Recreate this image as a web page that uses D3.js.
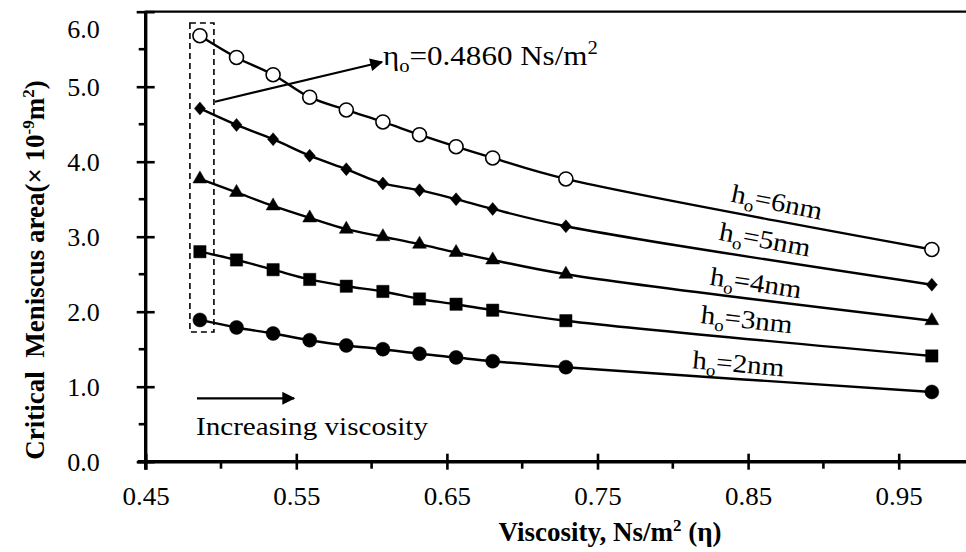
<!DOCTYPE html>
<html>
<head>
<meta charset="utf-8">
<script src="https://cdn.jsdelivr.net/npm/d3@7"></script>
<style>
  html, body { margin: 0; padding: 0; background: #fff; }
  svg { display: block; }
  text { font-family: "Liberation Serif", "Times New Roman", serif; fill: #000; }
</style>
</head>
<body>
<svg id="chart" width="966" height="552"></svg>
<script>
// ---- data ----
const viscosity = [0.486, 0.5103, 0.5346, 0.5589, 0.5832, 0.6075, 0.6318, 0.6561, 0.6804, 0.729, 0.972];
const areaH6 = [5.68, 5.39, 5.16, 4.86, 4.69, 4.53, 4.36, 4.20, 4.05, 3.77, 2.83];
const areaH5 = [4.71, 4.49, 4.30, 4.08, 3.90, 3.71, 3.62, 3.50, 3.37, 3.14, 2.36];
const areaH4 = [3.77, 3.59, 3.41, 3.25, 3.10, 3.00, 2.90, 2.79, 2.69, 2.50, 1.88];
const areaH3 = [2.80, 2.69, 2.56, 2.43, 2.34, 2.27, 2.17, 2.10, 2.02, 1.88, 1.41];
const areaH2 = [1.89, 1.79, 1.71, 1.62, 1.55, 1.50, 1.44, 1.39, 1.34, 1.26, 0.93];
const seriesNames = ["6nm", "5nm", "4nm", "3nm", "2nm"];
const xTicks = [0.45, 0.55, 0.65, 0.75, 0.85, 0.95];
const xMinorTicks = [0.50, 0.60, 0.70, 0.80, 0.90];
const yTicks = [0, 1, 2, 3, 4, 5, 6];
const yMinorTicks = [0.5, 1.5, 2.5, 3.5, 4.5, 5.5];
// label anchors (data units) and rotation for each series label
const labelX = [0.838, 0.830, 0.824, 0.818, 0.8125];
const labelY = [3.47, 2.96, 2.36, 1.85, 1.245];
const labelAngle = [11.5, 10.5, 8.5, 6.5, 5];
const eta0 = 0.486;

// ---- layout ----
const svg = d3.select("#chart");
const x = d3.scaleLinear().domain([0.45, 1.0]).range([145.7, 974]);
const y = d3.scaleLinear().domain([0, 6]).range([461.7, 11.7]);
const stretch = 1.12;   // horizontal widening of text seen in the reference

const series = [
  { name: seriesNames[0], values: areaH6, marker: "openCircle" },
  { name: seriesNames[1], values: areaH5, marker: "diamond" },
  { name: seriesNames[2], values: areaH4, marker: "triangle" },
  { name: seriesNames[3], values: areaH3, marker: "square" },
  { name: seriesNames[4], values: areaH2, marker: "circle" }
];

// defs: arrowhead
svg.append("defs").append("marker")
  .attr("id", "arrow").attr("viewBox", "0 0 10 10")
  .attr("refX", 9).attr("refY", 5)
  .attr("markerWidth", 17).attr("markerHeight", 13)
  .attr("markerUnits", "userSpaceOnUse")
  .attr("orient", "auto")
  .append("path").attr("d", "M0,0 L10,5 L0,10 Z").attr("fill", "#000");

// top border
svg.append("line")
  .attr("x1", x(0.45)).attr("x2", 966)
  .attr("y1", y(6)).attr("y2", y(6))
  .attr("stroke", "#000").attr("stroke-width", 2.2);

// ---- axes ----
const axisW = 3.4;
const gx = svg.append("g").attr("transform", `translate(0,${y(0)})`)
  .call(d3.axisBottom(x).tickValues(xTicks).tickFormat(d3.format(".2f")).tickSize(8).tickPadding(17));
gx.select(".domain").attr("stroke-width", axisW).attr("d", `M${x(0.45) - 8},0H966`);
gx.selectAll(".tick line").attr("y1", -8).attr("stroke-width", 2.6);
gx.selectAll(".tick text").attr("font-size", 26).attr("transform", `scale(1.04,1)`)
  .attr("x", d => 0);
gx.selectAll(".minor").data(xMinorTicks).enter().append("line")
  .attr("x1", d => x(d)).attr("x2", d => x(d)).attr("y1", 0).attr("y2", 7)
  .attr("stroke", "#000").attr("stroke-width", 2.6);

const gy = svg.append("g").attr("transform", `translate(${x(0.45)},0)`)
  .call(d3.axisLeft(y).tickValues(yTicks).tickFormat(d3.format(".1f")).tickSize(9).tickPadding(37));
gy.select(".domain").attr("stroke-width", axisW).attr("d", `M0,${y(6) - 1}V${y(0) + 8}`);
gy.selectAll(".tick line").attr("x1", 9).attr("stroke-width", 2.6);
gy.selectAll(".tick text").attr("font-size", 26)
  .attr("dy", d => d === 6 ? "1.0em" : "0.32em");
gy.selectAll(".minor").data(yMinorTicks).enter().append("line")
  .attr("y1", d => y(d)).attr("y2", d => y(d)).attr("x1", 0).attr("x2", -7)
  .attr("stroke", "#000").attr("stroke-width", 2.6);

// axis titles
const xt = svg.append("text")
  .attr("x", 610).attr("y", 541).attr("text-anchor", "middle")
  .attr("font-size", 27).attr("font-weight", "bold");
xt.append("tspan").text("Viscosity, Ns/m");
xt.append("tspan").attr("font-size", 17).attr("dy", -10).text("2");
xt.append("tspan").attr("dy", 10).text(" (η)");

const yt = svg.append("text")
  .attr("transform", `translate(44,270) rotate(-90)`)
  .attr("text-anchor", "middle")
  .attr("font-size", 27).attr("font-weight", "bold");
yt.append("tspan").text("Critical\u00a0 Meniscus area(× 10");
yt.append("tspan").attr("font-size", 17).attr("dy", -10).text("-9");
yt.append("tspan").attr("dy", 10).text("m");
yt.append("tspan").attr("font-size", 17).attr("dy", -10).text("2");
yt.append("tspan").attr("dy", 10).text(")");

// ---- dashed box around the first viscosity ----
svg.append("rect")
  .attr("x", x(eta0) - 10).attr("y", y(5.85))
  .attr("width", 24).attr("height", y(1.73) - y(5.85))
  .attr("fill", "none").attr("stroke", "#000").attr("stroke-width", 1.6)
  .attr("stroke-dasharray", "6,4");

// ---- lines ----
const line = d3.line()
  .x((d, i) => x(viscosity[i]))
  .y(d => y(d))
  .curve(d3.curveCatmullRom.alpha(0.5));

svg.append("g").selectAll("path.series").data(series).enter().append("path")
  .attr("class", "series")
  .attr("d", s => line(s.values))
  .attr("fill", "none").attr("stroke", "#000").attr("stroke-width", 2.4);

// ---- markers ----
const diamondType = { draw(ctx, size) { const h = Math.sqrt(size) * 0.6, w = h * 0.86; ctx.moveTo(0, -h); ctx.lineTo(w, 0); ctx.lineTo(0, h); ctx.lineTo(-w, 0); ctx.closePath(); } };
const symbols = {
  openCircle: d3.symbol().type(d3.symbolCircle).size(Math.PI * 7 * 7),
  circle: d3.symbol().type(d3.symbolCircle).size(Math.PI * 7 * 7),
  square: d3.symbol().type(d3.symbolSquare).size(12.3 * 12.3),
  triangle: d3.symbol().type(d3.symbolTriangle).size(84),
  diamond: d3.symbol().type(diamondType).size(115)
};

series.forEach(s => {
  svg.append("g").selectAll("path").data(s.values).enter().append("path")
    .attr("transform", (d, i) => `translate(${x(viscosity[i])},${y(d)})`)
    .attr("d", symbols[s.marker]())
    .attr("fill", s.marker === "openCircle" ? "#fff" : "#000")
    .attr("stroke", "#000")
    .attr("stroke-width", s.marker === "openCircle" ? 1.6 : 0.5);
});

// ---- series labels ----
series.forEach((s, i) => {
  const t = svg.append("text")
    .attr("transform", `translate(${x(labelX[i])},${y(labelY[i])}) rotate(${labelAngle[i]}) scale(${stretch},1)`)
    .attr("font-size", 26);
  t.append("tspan").text("h");
  t.append("tspan").attr("font-size", 17).attr("dy", 6).text("o");
  t.append("tspan").attr("dy", -6).text("=" + s.name);
});

// ---- annotation arrows ----
svg.append("line")
  .attr("x1", x(eta0) + 15).attr("y1", y(4.8))
  .attr("x2", 382).attr("y2", 62)
  .attr("stroke", "#000").attr("stroke-width", 2.2)
  .attr("marker-end", "url(#arrow)");
const ann = svg.append("text")
  .attr("transform", `translate(383,65) scale(${stretch + 0.03},1)`)
  .attr("font-size", 27);
ann.append("tspan").text("η");
ann.append("tspan").attr("font-size", 18).attr("dy", 7).text("o");
ann.append("tspan").attr("dy", -7).text("=" + eta0.toFixed(4) + " Ns/m");
ann.append("tspan").attr("font-size", 18).attr("dy", -11).text("2");

svg.append("line")
  .attr("x1", 197).attr("y1", 398.3)
  .attr("x2", 294).attr("y2", 398.3)
  .attr("stroke", "#000").attr("stroke-width", 2.2)
  .attr("marker-end", "url(#arrow)");
svg.append("text")
  .attr("transform", `translate(196,435) scale(${stretch},1)`)
  .attr("font-size", 26).text("Increasing viscosity");
</script>
</body>
</html>
